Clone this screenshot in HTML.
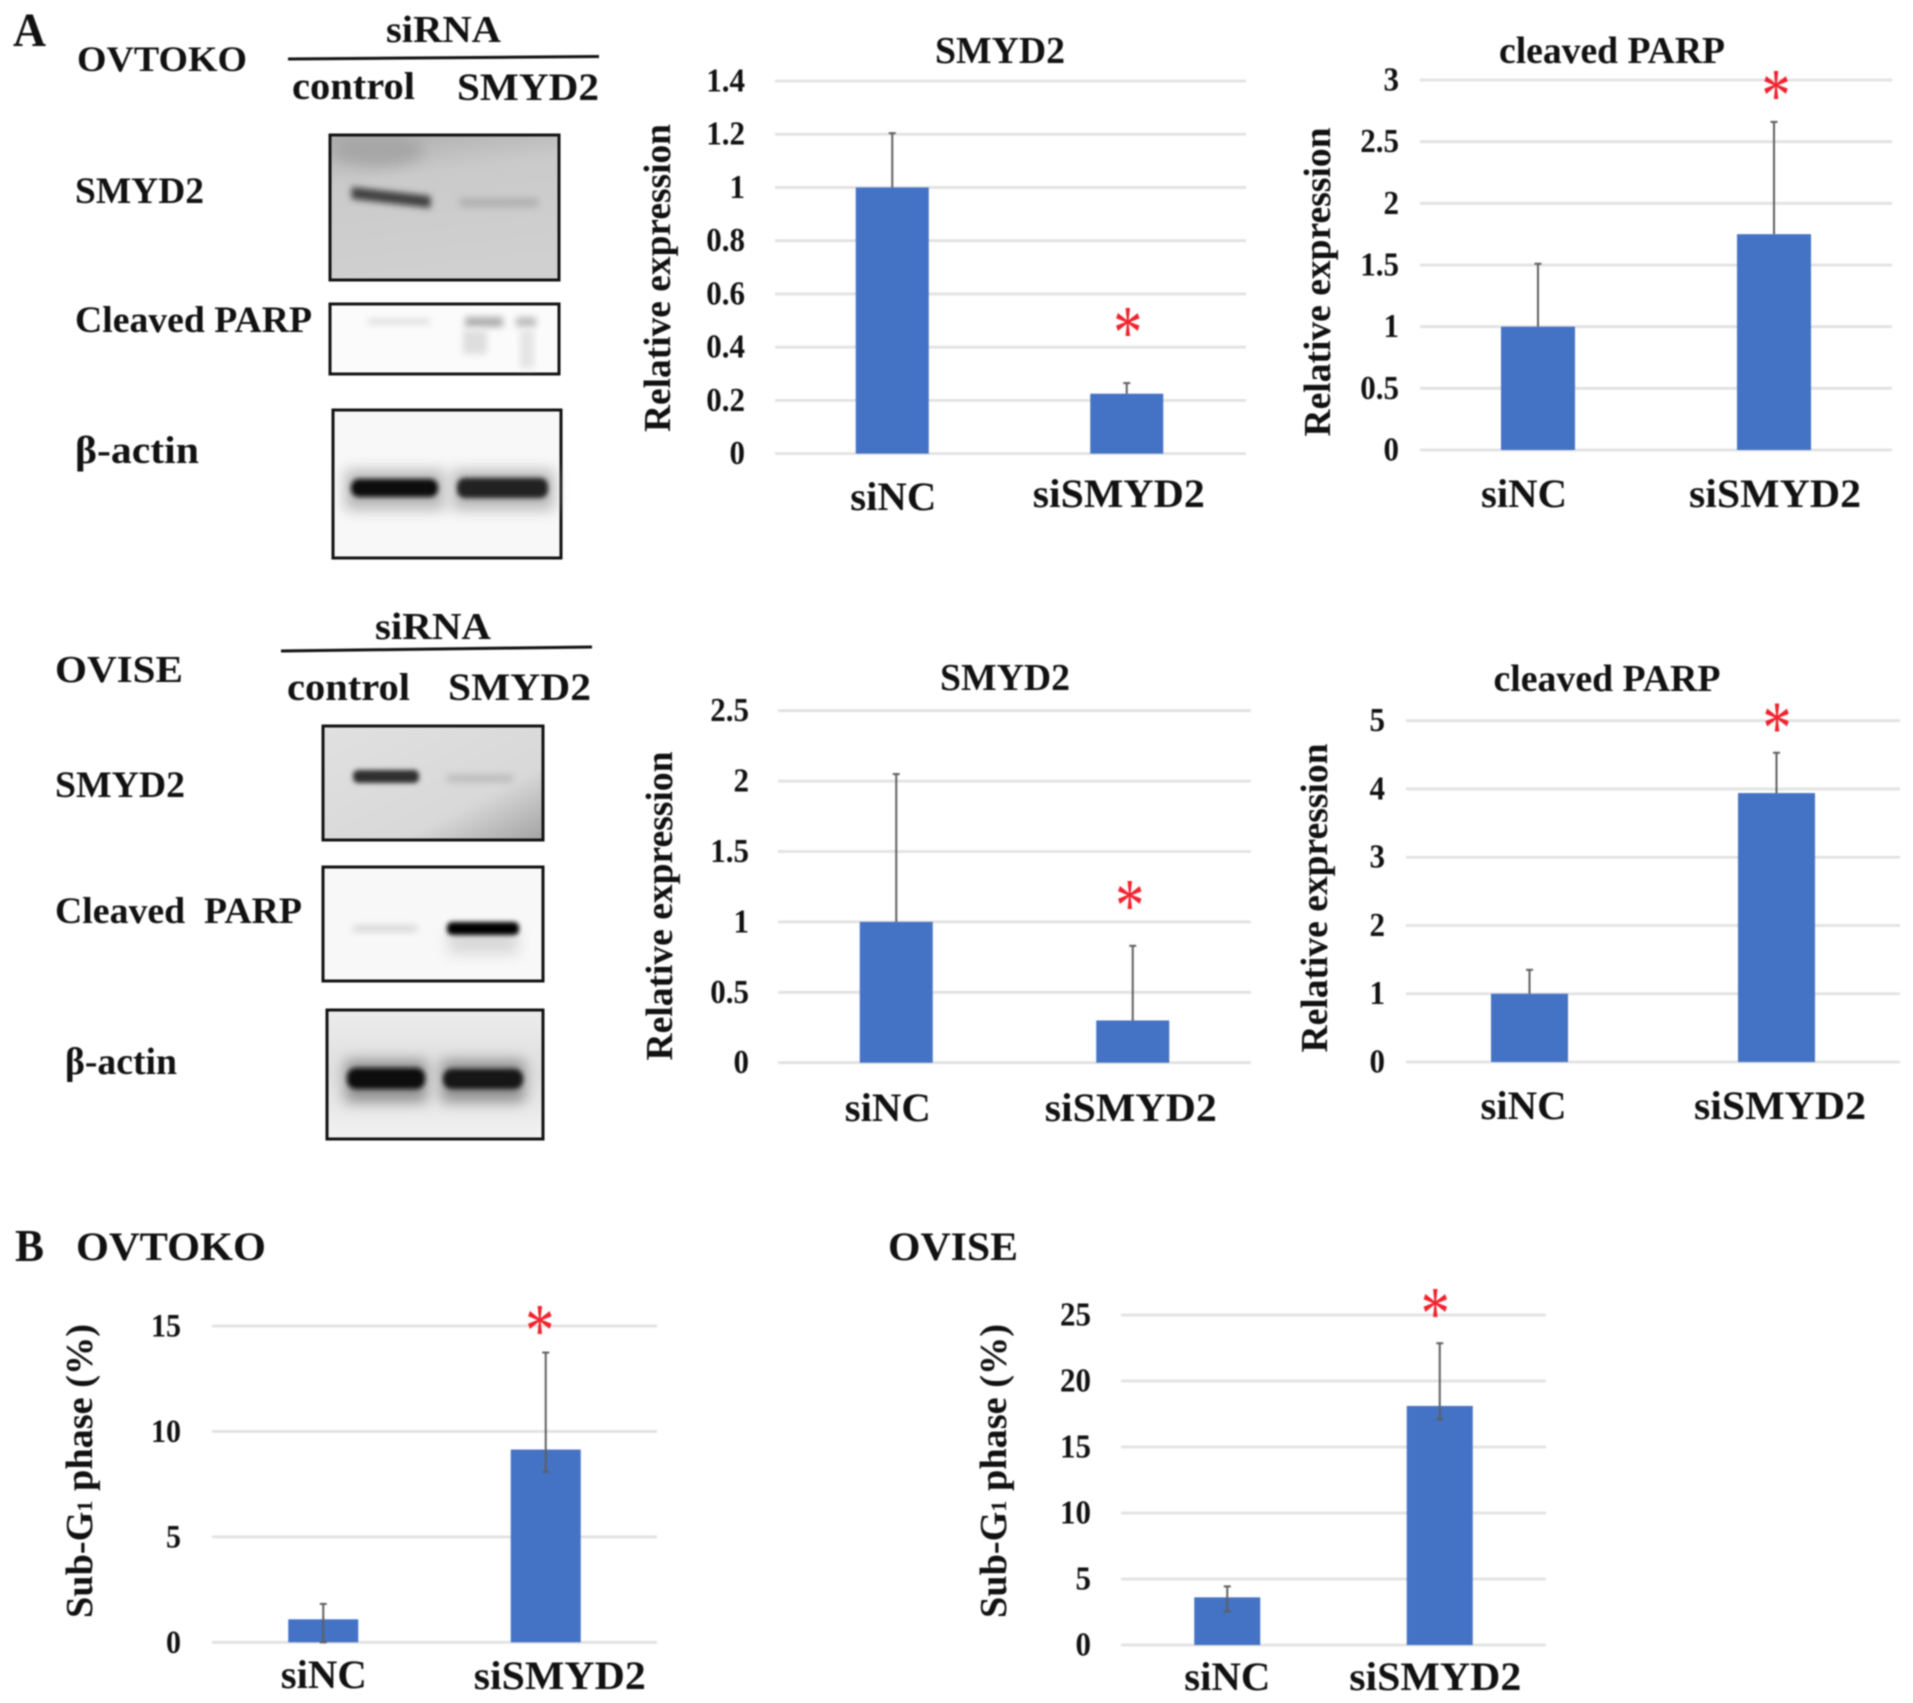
<!DOCTYPE html>
<html lang="en">
<head>
<meta charset="utf-8">
<title>SMYD2 knockdown western blots and bar charts</title>
<style>
html,body{margin:0;padding:0;background:#fff;width:1913px;height:1703px;overflow:hidden}
#figure{display:block;filter:blur(.8px)}
text{font-family:"Liberation Serif",serif;font-weight:bold;fill:#111}
</style>
</head>
<body>
<svg id="figure" xmlns="http://www.w3.org/2000/svg" width="1913" height="1703" viewBox="0 0 1913 1703">
<defs>
<filter id="b1" x="-30%" y="-150%" width="160%" height="400%"><feGaussianBlur stdDeviation="2.4"/></filter>
<filter id="b2" x="-30%" y="-200%" width="160%" height="500%"><feGaussianBlur stdDeviation="3.2"/></filter>
<filter id="b3" x="-30%" y="-150%" width="160%" height="400%"><feGaussianBlur stdDeviation="3.5"/></filter>
<filter id="b7" x="-40%" y="-200%" width="180%" height="500%"><feGaussianBlur stdDeviation="7"/></filter>
<clipPath id="clip-blot1"><rect x="331" y="136" width="227" height="143"/></clipPath>
<linearGradient id="g1" x1="0.2" y1="0" x2="0.4" y2="1"><stop offset="0" stop-color="#b0b0b0"/><stop offset=".3" stop-color="#cacaca"/><stop offset="1" stop-color="#d0d0d0"/></linearGradient>
<linearGradient id="g2" x1="0" y1="0" x2="1" y2="1"><stop offset="0" stop-color="#e0e0e0"/><stop offset=".68" stop-color="#d8d8d8"/><stop offset="1" stop-color="#a2a2a2"/></linearGradient>
<linearGradient id="g3" x1="0" y1="0" x2="0" y2="1"><stop offset="0" stop-color="#ececec"/><stop offset=".5" stop-color="#dfdfdf"/><stop offset="1" stop-color="#f2f2f2"/></linearGradient>
</defs>

<g>
<text x="13" y="46" font-size="48" textLength="33" lengthAdjust="spacingAndGlyphs">A</text>
<text x="77" y="71" font-size="36" textLength="170" lengthAdjust="spacingAndGlyphs">OVTOKO</text>
<text x="386" y="42" font-size="38" textLength="115" lengthAdjust="spacingAndGlyphs">siRNA</text>
<line x1="288" y1="59" x2="599" y2="56.5" stroke="#111" stroke-width="3"/>
<text x="292" y="99" font-size="39" textLength="123" lengthAdjust="spacingAndGlyphs">control</text>
<text x="457" y="100" font-size="39" textLength="142" lengthAdjust="spacingAndGlyphs">SMYD2</text>
<text x="75" y="203" font-size="37" textLength="129" lengthAdjust="spacingAndGlyphs">SMYD2</text>
<text x="75" y="332" font-size="37" textLength="237" lengthAdjust="spacingAndGlyphs">Cleaved PARP</text>
<text x="75" y="463" font-size="39" textLength="124" lengthAdjust="spacingAndGlyphs">β-actin</text>

<g>
<rect x="330" y="135" width="229" height="145" fill="url(#g1)"/>
<g clip-path="url(#clip-blot1)">
<ellipse cx="378" cy="150" rx="46" ry="16" fill="#a6a6a6" filter="url(#b7)"/>
<path d="M356 192 L426 200 L426 203 L356 195 Z" fill="#404040" stroke="#404040" stroke-width="9" filter="url(#b2)"/>
<rect x="460" y="198" width="78" height="9" fill="#b0b0b0" filter="url(#b3)"/>
</g>
<rect x="330" y="135" width="229" height="145" fill="none" stroke="#111" stroke-width="3"/>
</g>
<g>
<rect x="330" y="304" width="229" height="70" fill="#fbfbfb" stroke="#111" stroke-width="3"/>
<rect x="368" y="319" width="62" height="5" fill="#dadada" filter="url(#b3)"/>
<rect x="465" y="317" width="38" height="10" fill="#adadad" filter="url(#b3)"/>
<rect x="516" y="317" width="20" height="10" fill="#bdbdbd" filter="url(#b3)"/>
<rect x="463" y="330" width="24" height="24" fill="#dedede" filter="url(#b3)"/>
<rect x="520" y="330" width="14" height="38" fill="#e4e4e4" filter="url(#b3)"/>
</g>
<g>
<rect x="333" y="410" width="228" height="148" fill="#f8f8f8" stroke="#111" stroke-width="3"/>
<rect x="345" y="470" width="100" height="40" fill="#b8b8b8" filter="url(#b7)"/>
<rect x="452" y="470" width="102" height="40" fill="#b8b8b8" filter="url(#b7)"/>
<rect x="351" y="479" width="87" height="18" rx="8" fill="#101010" filter="url(#b1)"/>
<rect x="457" y="478" width="91" height="20" rx="8" fill="#202020" filter="url(#b1)"/>
</g>
</g>

<g>
<text x="55" y="682" font-size="38" textLength="128" lengthAdjust="spacingAndGlyphs">OVISE</text>
<text x="375" y="639" font-size="38" textLength="116" lengthAdjust="spacingAndGlyphs">siRNA</text>
<line x1="281" y1="651" x2="592" y2="647" stroke="#111" stroke-width="3"/>
<text x="287" y="700" font-size="39" textLength="123" lengthAdjust="spacingAndGlyphs">control</text>
<text x="448" y="700" font-size="39" textLength="143" lengthAdjust="spacingAndGlyphs">SMYD2</text>
<text x="55" y="797" font-size="37" textLength="130" lengthAdjust="spacingAndGlyphs">SMYD2</text>
<text x="55" y="923" font-size="37" textLength="247" lengthAdjust="spacingAndGlyphs" xml:space="preserve">Cleaved  PARP</text>
<text x="65" y="1074" font-size="38" textLength="112" lengthAdjust="spacingAndGlyphs">β-actin</text>

<g>
<rect x="323" y="726" width="220" height="114" fill="url(#g2)" stroke="#111" stroke-width="3"/>
<rect x="353" y="770" width="66" height="13" rx="5" fill="#2e2e2e" filter="url(#b1)"/>
<rect x="447" y="775" width="66" height="7" fill="#bababa" filter="url(#b3)"/>
</g>
<g>
<rect x="323" y="867" width="220" height="114" fill="#f8f8f8" stroke="#111" stroke-width="3"/>
<rect x="353" y="925" width="64" height="7" fill="#d8d8d8" filter="url(#b3)"/>
<rect x="448" y="930" width="70" height="24" fill="#d8d8d8" filter="url(#b7)"/>
<rect x="447" y="922" width="72" height="13" rx="5" fill="#060606" filter="url(#b1)"/>
</g>
<g>
<rect x="327" y="1010" width="216" height="129" fill="url(#g3)" stroke="#111" stroke-width="3"/>
<rect x="345" y="1060" width="82" height="42" fill="#909090" filter="url(#b7)"/>
<rect x="441" y="1060" width="84" height="42" fill="#909090" filter="url(#b7)"/>
<rect x="347" y="1068" width="78" height="21" rx="9" fill="#101010" filter="url(#b1)"/>
<rect x="443" y="1069" width="80" height="20" rx="9" fill="#141414" filter="url(#b1)"/>
</g>
</g>

<g>
<text x="15" y="1261" font-size="46" textLength="29" lengthAdjust="spacingAndGlyphs">B</text>
<text x="76" y="1260" font-size="40" textLength="190" lengthAdjust="spacingAndGlyphs">OVTOKO</text>
<text x="888" y="1260" font-size="40" textLength="130" lengthAdjust="spacingAndGlyphs">OVISE</text>
</g>
</svg>

<script>
const categories = ['siNC', 'siSMYD2'];

const a1Ticks = ['0', '0.2', '0.4', '0.6', '0.8', '1', '1.2', '1.4'];
const a1Values = [1, 0.225];
const a1ErrorUp = [0.204, 0.04];
const a1ErrorDown = [0, 0];
const a1StarValue = 0.494;

const a2Ticks = ['0', '0.5', '1', '1.5', '2', '2.5', '3'];
const a2Values = [1, 1.75];
const a2ErrorUp = [0.51, 0.91];
const a2ErrorDown = [0, 0];
const a2StarValue = 2.96;

const a3Ticks = ['0', '0.5', '1', '1.5', '2', '2.5'];
const a3Values = [1, 0.3];
const a3ErrorUp = [1.05, 0.53];
const a3ErrorDown = [0, 0];
const a3StarValue = 1.19;

const a4Ticks = ['0', '1', '2', '3', '4', '5'];
const a4Values = [1, 3.94];
const a4ErrorUp = [0.35, 0.59];
const a4ErrorDown = [0, 0];
const a4StarValue = 5.05;

const b1Ticks = ['0', '5', '10', '15'];
const b1Values = [1.09, 9.14];
const b1ErrorUp = [0.73, 4.6];
const b1ErrorDown = [1.09, 1.05];
const b1StarValue = 15.28;

const b2Ticks = ['0', '5', '10', '15', '20', '25'];
const b2Values = [3.61, 18.11];
const b2ErrorUp = [0.83, 4.75];
const b2ErrorDown = [1.06, 1.01];
const b2StarValue = 25.9;

const NS = 'http://www.w3.org/2000/svg';
const root = document.getElementById('figure');

function mk(tag, attrs, parent) {
  const el = document.createElementNS(NS, tag);
  for (const k in attrs) el.setAttribute(k, attrs[k]);
  parent.appendChild(el);
  return el;
}

function tickWidth(label, unit) {
  let w = 0;
  for (const ch of label) w += ch === '.' ? 0.25 : 0.5;
  return w * unit;
}

function drawChart(c) {
  const maxV = parseFloat(c.ticks[c.ticks.length - 1]);
  const y = v => c.y0 - (v / maxV) * (c.y0 - c.yTop);
  const band = (c.barRight - c.left) / c.categories.length;
  const x = i => c.left + band * (i + 0.5);

  const g = mk('g', {}, root);
  
  

  if (c.title) {
    const t = mk('text', { x: c.titleX, y: c.titleY, 'font-size': 38, 'text-anchor': 'middle', textLength: c.titleW, lengthAdjust: 'spacingAndGlyphs' }, g);
    t.textContent = c.title;
    
    
  }

  const yt = mk('text', { x: c.yTitleX, y: c.yTitleY, 'font-size': 38, 'text-anchor': 'middle', textLength: c.yTitleLen, lengthAdjust: 'spacingAndGlyphs', transform: 'rotate(-90 ' + c.yTitleX + ' ' + c.yTitleY + ')' }, g);
  if (c.subG) {
    yt.appendChild(document.createTextNode('Sub-G'));
    const sub = mk('tspan', { 'font-size': 22 }, yt);
    sub.textContent = '1';
    yt.appendChild(document.createTextNode(' phase (%)'));
  } else {
    yt.textContent = 'Relative expression';
  }
  
  

  c.ticks.forEach(label => {
    const v = parseFloat(label);
    const line = mk('line', { x1: c.left, x2: c.right, y1: y(v), y2: y(v), stroke: '#e2e2e2', 'stroke-width': 2.8 }, g);
    
    
    const tl = mk('text', { x: c.tickX, y: y(v) + 10.5, 'font-size': c.tickSize + 3, 'text-anchor': 'end', textLength: tickWidth(label, c.tickSize), lengthAdjust: 'spacingAndGlyphs' }, g);
    tl.textContent = label;
    
    
  });

  c.categories.forEach((cat, i) => {
    const bar = mk('rect', { x: x(i) - c.barW / 2, y: y(c.values[i]), width: c.barW, height: c.y0 - y(c.values[i]), fill: '#4472c4' }, g);
    
    

    const hi = y(c.values[i] + c.errorUp[i]);
    const lo = y(c.values[i] - c.errorDown[i]);
    const err = mk('line', { x1: x(i), x2: x(i), y1: hi, y2: lo, stroke: '#5f5f5f', 'stroke-width': 2 }, g);
    
    
    const capTop = mk('line', { x1: x(i) - 3.5, x2: x(i) + 3.5, y1: hi, y2: hi, stroke: '#5f5f5f', 'stroke-width': 2 }, g);
    
    
    if (c.errorDown[i] > 0) {
      const capLow = mk('line', { x1: x(i) - 3.5, x2: x(i) + 3.5, y1: lo, y2: lo, stroke: '#5f5f5f', 'stroke-width': 2 }, g);
      
      
    }

    const xl = mk('text', { x: x(i) + c.labelDx[i], y: c.labelY[i], 'font-size': 40, 'text-anchor': 'middle', textLength: i === 0 ? 86 : 172, lengthAdjust: 'spacingAndGlyphs' }, g);
    xl.textContent = cat;
    
    
  });

  const star = mk('text', { x: x(1) + c.starDx, y: y(c.starValue) + 36, 'font-size': 76, 'text-anchor': 'middle', textLength: 29, lengthAdjust: 'spacingAndGlyphs', style: 'fill:#f0222e;font-weight:normal' }, g);
  star.textContent = '*';
  
  
}

drawChart({ name: 'chart-ovtoko-smyd2', categories, ticks: a1Ticks, values: a1Values, errorUp: a1ErrorUp, errorDown: a1ErrorDown, starValue: a1StarValue,
  left: 775, right: 1246, barRight: 1244, y0: 453.6, yTop: 81, barW: 73, tickX: 745, tickSize: 31,
  title: 'SMYD2', titleX: 1000, titleY: 63, titleW: 130,
  yTitleX: 670, yTitleY: 278, yTitleLen: 308,
  labelDx: [1, -8], labelY: [510, 507], starDx: 1 });

drawChart({ name: 'chart-ovtoko-cleaved-parp', categories, ticks: a2Ticks, values: a2Values, errorUp: a2ErrorUp, errorDown: a2ErrorDown, starValue: a2StarValue,
  left: 1420, right: 1892, barRight: 1892, y0: 450, yTop: 80, barW: 74, tickX: 1399, tickSize: 31,
  title: 'cleaved PARP', titleX: 1612, titleY: 63, titleW: 226,
  yTitleX: 1330, yTitleY: 282, yTitleLen: 309,
  labelDx: [-14, 1], labelY: [507, 507], starDx: 2 });

drawChart({ name: 'chart-ovise-smyd2', categories, ticks: a3Ticks, values: a3Values, errorUp: a3ErrorUp, errorDown: a3ErrorDown, starValue: a3StarValue,
  left: 778, right: 1251, barRight: 1251, y0: 1062.7, yTop: 710.7, barW: 73, tickX: 749, tickSize: 31,
  title: 'SMYD2', titleX: 1005, titleY: 690, titleW: 130,
  yTitleX: 672, yTitleY: 906, yTitleLen: 309,
  labelDx: [-8.5, -2], labelY: [1121, 1121], starDx: -3 });

drawChart({ name: 'chart-ovise-cleaved-parp', categories, ticks: a4Ticks, values: a4Values, errorUp: a4ErrorUp, errorDown: a4ErrorDown, starValue: a4StarValue,
  left: 1406, right: 1900, barRight: 1900, y0: 1062, yTop: 720.7, barW: 77, tickX: 1385, tickSize: 31,
  title: 'cleaved PARP', titleX: 1607, titleY: 691, titleW: 227,
  yTitleX: 1327, yTitleY: 898, yTitleLen: 309,
  labelDx: [-6, 3.5], labelY: [1119, 1119], starDx: 0.5 });

drawChart({ name: 'chart-ovtoko-sub-g1', categories, ticks: b1Ticks, values: b1Values, errorUp: b1ErrorUp, errorDown: b1ErrorDown, starValue: b1StarValue,
  left: 212, right: 657, barRight: 657, y0: 1642.3, yTop: 1326, barW: 70, tickX: 181, tickSize: 30,
  subG: true, yTitleX: 92, yTitleY: 1471, yTitleLen: 294,
  labelDx: [0.5, 14], labelY: [1688, 1689], starDx: -6 });

drawChart({ name: 'chart-ovise-sub-g1', categories, ticks: b2Ticks, values: b2Values, errorUp: b2ErrorUp, errorDown: b2ErrorDown, starValue: b2StarValue,
  left: 1121, right: 1546, barRight: 1546, y0: 1645, yTop: 1315, barW: 66, tickX: 1091, tickSize: 31,
  subG: true, yTitleX: 1006, yTitleY: 1471, yTitleLen: 294,
  labelDx: [0, -4.5], labelY: [1690, 1690], starDx: -4.5 });
</script>
</body>
</html>
